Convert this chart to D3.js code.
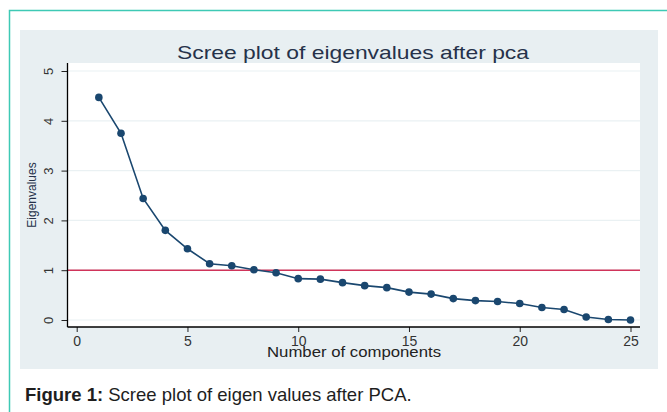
<!DOCTYPE html>
<html>
<head>
<meta charset="utf-8">
<script src="https://cdn.jsdelivr.net/npm/d3@7"></script>
<style>
  html, body { margin: 0; padding: 0; background: #ffffff; }
  svg { display: block; font-family: "Liberation Sans", Arial, sans-serif; }
</style>
</head>
<body>
<svg id="chart" width="667" height="412"></svg>
<script>
const components = d3.range(1, 26);
const eigenvalues = [4.47, 3.75, 2.44, 1.80, 1.43, 1.13, 1.09, 1.01, 0.95, 0.83,
                     0.82, 0.75, 0.69, 0.65, 0.56, 0.52, 0.43, 0.39, 0.37, 0.33,
                     0.25, 0.21, 0.06, 0.01, 0.00];
const xTicks = [0, 5, 10, 15, 20, 25];
const yTicks = [0, 1, 2, 3, 4, 5];
const referenceValue = 1;
const titleText = "Scree plot of eigenvalues after pca";
const xTitle = "Number of components";
const yTitle = "Eigenvalues";

const svg = d3.select("#chart");

// outer teal frame
svg.append("rect").attr("x", 9.5).attr("y", 10.5).attr("width", 700).attr("height", 450)
  .attr("fill", "#ffffff").attr("stroke", "#3ec9b5").attr("stroke-width", 1.5);

// gray graph region
svg.append("rect").attr("x", 20).attr("y", 30).attr("width", 638).attr("height", 339)
  .attr("fill", "#e8eff2");

// plot region
const plot = {left: 67.5, right: 640, top: 63, bottom: 327};
svg.append("rect").attr("x", plot.left).attr("y", plot.top)
  .attr("width", plot.right - plot.left).attr("height", plot.bottom - plot.top)
  .attr("fill", "#ffffff");

const x = d3.scaleLinear().domain([0, 25]).range([76.7, 630.5]);
const y = d3.scaleLinear().domain([0, 5]).range([320, 71]);

// gridlines
svg.append("g").selectAll("line").data(yTicks).join("line")
  .attr("x1", plot.left).attr("x2", plot.right)
  .attr("y1", d => y(d)).attr("y2", d => y(d))
  .attr("stroke", "#eaf1f3").attr("stroke-width", 1.2);

// reference line
svg.append("line")
  .attr("x1", plot.left).attr("x2", plot.right)
  .attr("y1", y(referenceValue)).attr("y2", y(referenceValue))
  .attr("stroke", "#d0345a").attr("stroke-width", 1.4);

// axes
const yAxis = d3.axisLeft(y).tickValues(yTicks).tickSize(6).tickSizeOuter(0).tickFormat(d3.format("d"));
const gy = svg.append("g").attr("transform", `translate(${plot.left},0)`).call(yAxis);
gy.select(".domain").remove();
gy.append("line").attr("x1", 0).attr("x2", 0).attr("y1", plot.top).attr("y2", plot.bottom)
  .attr("stroke", "#000").attr("stroke-width", 1.3);
gy.selectAll(".tick line").attr("stroke", "#222");
gy.selectAll(".tick text")
  .attr("fill", "#333").attr("font-size", 13)
  .attr("font-family", "Liberation Sans, Arial, sans-serif")
  .attr("text-anchor", "middle")
  .attr("x", 0).attr("y", 0).attr("dy", 0)
  .attr("transform", "translate(-14.5,0) rotate(-90)");

const xAxis = d3.axisBottom(x).tickValues(xTicks).tickSize(5).tickSizeOuter(0).tickPadding(4).tickFormat(d3.format("d"));
const gx = svg.append("g").attr("transform", `translate(0,${plot.bottom})`).call(xAxis);
gx.select(".domain").remove();
gx.append("line").attr("x1", plot.left).attr("x2", plot.right).attr("y1", 0).attr("y2", 0)
  .attr("stroke", "#000").attr("stroke-width", 1.3);
gx.selectAll(".tick line").attr("stroke", "#222");
gx.selectAll(".tick text").attr("fill", "#333").attr("font-size", 14)
  .attr("font-family", "Liberation Sans, Arial, sans-serif");

// line + markers
const pts = components.map((c, i) => [c, eigenvalues[i]]);
svg.append("path").datum(pts)
  .attr("d", d3.line().x(d => x(d[0])).y(d => y(d[1])))
  .attr("fill", "none").attr("stroke", "#1a476f").attr("stroke-width", 1.6);
svg.append("g").selectAll("circle").data(pts).join("circle")
  .attr("cx", d => x(d[0])).attr("cy", d => y(d[1])).attr("r", 3.8)
  .attr("fill", "#1a476f");

// titles
svg.append("text").attr("x", 353).attr("y", 59).attr("text-anchor", "middle")
  .attr("font-size", 19).attr("fill", "#26324a").attr("textLength", 352)
  .attr("lengthAdjust", "spacingAndGlyphs").text(titleText);
svg.append("text").attr("x", 354).attr("y", 357).attr("text-anchor", "middle")
  .attr("font-size", 15.5).attr("fill", "#222").attr("textLength", 174)
  .attr("lengthAdjust", "spacingAndGlyphs").text(xTitle);
svg.append("text").attr("transform", "translate(36,195) rotate(-90)")
  .attr("text-anchor", "middle").attr("font-size", 12).attr("fill", "#26324a")
  .text(yTitle);

// caption
const cap = svg.append("text").attr("x", 25).attr("y", 401).attr("font-size", 18.5).attr("fill", "#1e1e1e");
cap.append("tspan").attr("font-weight", "bold").text("Figure 1:");
cap.append("tspan").text(" Scree plot of eigen values after PCA.");
</script>
</body>
</html>
